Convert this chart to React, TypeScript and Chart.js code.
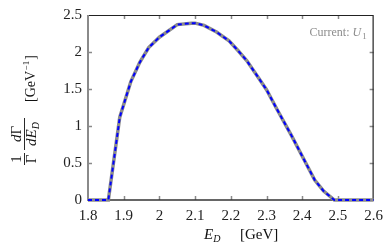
import React, { useEffect, useRef } from "react";
import { Chart, registerables } from "chart.js";

Chart.register(...registerables);

const energies = [1.8, 1.857, 1.889, 1.92, 1.945, 1.97, 2.0, 2.05, 2.09, 2.1, 2.125, 2.16, 2.195, 2.22, 2.245, 2.275, 2.3, 2.33, 2.37, 2.41, 2.435, 2.46, 2.49, 2.6];
const rates = [0, 0, 1.12, 1.6, 1.86, 2.06, 2.2, 2.37, 2.39, 2.39, 2.36, 2.27, 2.15, 2.02, 1.88, 1.67, 1.49, 1.22, 0.87, 0.5, 0.27, 0.12, 0, 0];
const xTickValues = [1.8, 1.9, 2.0, 2.1, 2.2, 2.3, 2.4, 2.5, 2.6];
const yTickValues = [0, 0.5, 1, 1.5, 2, 2.5];
const annotationText = "Current: ";
const annotationVar = "U";
const annotationSub = "1";

const SERIF = "'Liberation Serif', 'DejaVu Serif', serif";

function fmt(v: number) {
  return String(Math.round(v * 10) / 10);
}

const framePlugin = {
  id: "frame",
  beforeDatasetsDraw(chart: any) {
    const { ctx, chartArea: a, scales } = chart;
    const xs = scales.x;
    const ys = scales.y;
    ctx.save();
    ctx.strokeStyle = "#8a8a8a";
    ctx.lineWidth = 1.5;
    const tl = 4;
    xTickValues.forEach((v) => {
      const px = Math.round(xs.getPixelForValue(v)) + 0.5;
      if (px <= a.left + 1 || px >= a.right - 1) return;
      ctx.beginPath();
      ctx.moveTo(px, a.bottom);
      ctx.lineTo(px, a.bottom - tl);
      ctx.moveTo(px, a.top);
      ctx.lineTo(px, a.top + tl);
      ctx.stroke();
    });
    yTickValues.forEach((v) => {
      const py = Math.round(ys.getPixelForValue(v)) + 0.5;
      if (py <= a.top + 1 || py >= a.bottom - 1) return;
      ctx.beginPath();
      ctx.moveTo(a.left, py);
      ctx.lineTo(a.left + tl, py);
      ctx.moveTo(a.right, py);
      ctx.lineTo(a.right - tl, py);
      ctx.stroke();
    });
    ctx.lineWidth = 1.2;
    ctx.strokeStyle = "#222";
    ctx.beginPath();
    ctx.moveTo(a.left, a.top + 0.5);
    ctx.lineTo(a.right, a.top + 0.5);
    ctx.moveTo(a.right - 0.5, a.top);
    ctx.lineTo(a.right - 0.5, a.bottom);
    ctx.stroke();
    ctx.strokeStyle = "#333";
    ctx.lineWidth = 1.5;
    ctx.beginPath();
    ctx.moveTo(a.left, a.bottom);
    ctx.lineTo(a.right, a.bottom);
    ctx.stroke();
    ctx.strokeStyle = "#8a8a8a";
    ctx.lineWidth = 2;
    ctx.beginPath();
    ctx.moveTo(a.left, a.top);
    ctx.lineTo(a.left, a.bottom + 1);
    ctx.stroke();
    ctx.restore();
  },
  afterDraw(chart: any) {
    const { ctx, chartArea: a } = chart;
    ctx.save();
    ctx.textBaseline = "alphabetic";
    ctx.textAlign = "left";

    ctx.fillStyle = "#8c8c8c";
    const f1 = `12px ${SERIF}`;
    const f2 = `italic 12px ${SERIF}`;
    const f3 = `9px ${SERIF}`;
    ctx.font = f1;
    const w1 = ctx.measureText(annotationText).width;
    ctx.font = f2;
    const w2 = ctx.measureText(annotationVar).width;
    ctx.font = f3;
    const w3 = ctx.measureText(annotationSub).width;
    const x0 = a.right - 7 - (w1 + w2 + w3 + 1);
    const yb = a.top + 21;
    ctx.font = f1;
    ctx.fillText(annotationText, x0, yb);
    ctx.font = f2;
    ctx.fillText(annotationVar, x0 + w1, yb);
    ctx.font = f3;
    ctx.fillText(annotationSub, x0 + w1 + w2 + 1, yb + 3);

    ctx.fillStyle = "#111";
    const xf = `italic 15px ${SERIF}`;
    const xfs = `italic 10px ${SERIF}`;
    const xfn = `15px ${SERIF}`;
    const xb = 239;
    ctx.font = xf;
    ctx.fillText("E", 204, xb);
    const we = ctx.measureText("E").width;
    ctx.font = xfs;
    ctx.fillText("D", 204 + we, xb + 3);
    ctx.font = xfn;
    ctx.fillText("[GeV]", 240, xb);

    ctx.translate(24, 106);
    ctx.rotate(-Math.PI / 2);
    const nf = `15px ${SERIF}`;
    const nfi = `italic 15px ${SERIF}`;
    const sub = `italic 10px ${SERIF}`;
    const drawCentered = (parts: [string, string, number][], cx: number, base: number) => {
      let tw = 0;
      parts.forEach(([t, f]) => {
        ctx.font = f;
        tw += ctx.measureText(t).width;
      });
      let x = cx - tw / 2;
      parts.forEach(([t, f, dy]) => {
        ctx.font = f;
        ctx.fillText(t, x, base + dy);
        x += ctx.measureText(t).width;
      });
      return tw;
    };
    ctx.lineWidth = 0.9;
    ctx.strokeStyle = "#111";
    drawCentered([["1", nf, 0]], -53, -3);
    drawCentered([["Γ", nf, 0]], -53, 12);
    ctx.beginPath();
    ctx.moveTo(-59, 0.5);
    ctx.lineTo(-47, 0.5);
    ctx.stroke();
    drawCentered([["d", nfi, 0], ["Γ", nf, 0]], -28, -3);
    drawCentered([["dE", nfi, 0], ["D", sub, 3]], -28, 12);
    ctx.beginPath();
    ctx.moveTo(-44, 0.5);
    ctx.lineTo(-12, 0.5);
    ctx.stroke();
    ctx.font = `14px ${SERIF}`;
    ctx.fillText("[GeV", 4, 11);
    const wg = ctx.measureText("[GeV").width;
    ctx.font = `9px ${SERIF}`;
    ctx.fillText("−1", 4 + wg + 0.5, 5);
    const wm = ctx.measureText("−1").width;
    ctx.font = `14px ${SERIF}`;
    ctx.fillText("]", 4 + wg + wm + 1.5, 11);
    ctx.restore();
  },
};

export default function App() {
  const ref = useRef<HTMLCanvasElement | null>(null);
  useEffect(() => {
    document.body.style.margin = "0";
    const canvas = ref.current!;
    const points = energies.map((e, i) => ({ x: e, y: rates[i] }));
    const chart = new Chart(canvas, {
      type: "line",
      data: {
        datasets: [
          {
            data: points,
            borderColor: "#0000ff",
            borderWidth: 2,
            borderDash: [4, 3],
            pointRadius: 0,
            tension: 0,
            fill: false,
            clip: 6,
          } as any,
          {
            data: points,
            borderColor: "#8c8c8c",
            borderWidth: 3.5,
            pointRadius: 0,
            tension: 0,
            fill: false,
            clip: 6,
          } as any,
        ],
      },
      options: {
        responsive: false,
        animation: false,
        devicePixelRatio: 1,
        layout: { padding: { top: 15, right: 15, left: 0, bottom: 0 } },
        plugins: { legend: { display: false }, tooltip: { enabled: false } },
        scales: {
          x: {
            type: "linear",
            min: 1.8,
            max: 2.6,
            grid: { display: false, drawTicks: false },
            border: { display: false },
            afterBuildTicks: (s: any) => {
              s.ticks = xTickValues.map((v) => ({ value: v }));
            },
            afterFit: (s: any) => {
              s.height = 44;
            },
            ticks: {
              padding: 7,
              color: "#222",
              font: { family: SERIF, size: 15 },
              maxRotation: 0,
              autoSkip: false,
              callback: (v: any) => fmt(Number(v)),
            },
          },
          y: {
            type: "linear",
            min: 0,
            max: 2.5,
            grid: { display: false, drawTicks: false },
            border: { display: false },
            afterBuildTicks: (s: any) => {
              s.ticks = yTickValues.map((v) => ({ value: v }));
            },
            afterFit: (s: any) => {
              s.width = 88;
            },
            ticks: {
              padding: 6,
              color: "#222",
              font: { family: SERIF, size: 15 },
              autoSkip: false,
              callback: (v: any) => fmt(Number(v)),
            },
          },
        },
      },
      plugins: [framePlugin],
    });
    return () => chart.destroy();
  }, []);
  return (
    <div style={{ width: 390, height: 244 }}>
      <canvas ref={ref} width={390} height={244} style={{ display: "block" }} />
    </div>
  );
}
